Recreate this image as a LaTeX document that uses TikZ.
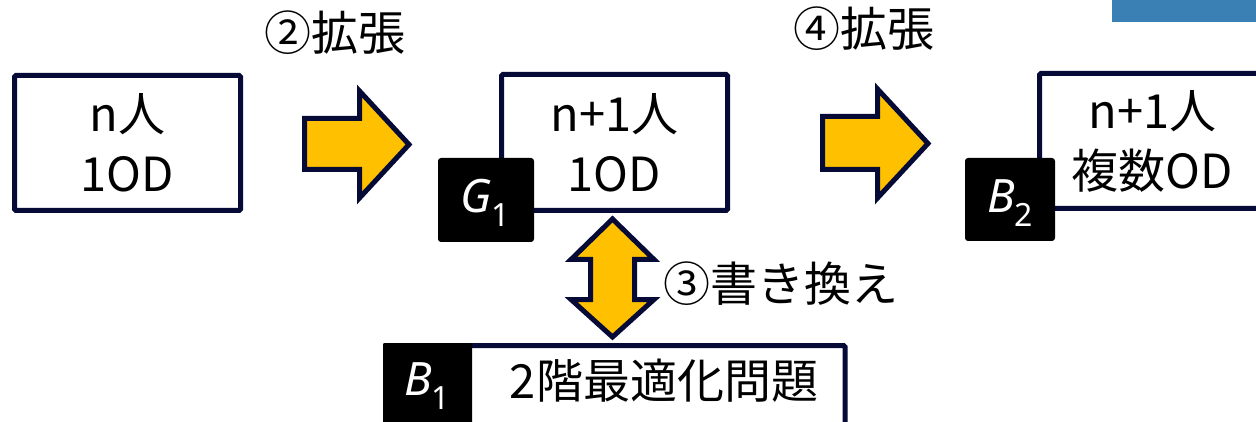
\documentclass[tikz,border=0pt]{standalone}
\usepackage{fontspec}
\setmainfont{Noto Sans CJK JP}
\newfontfamily\latinit{Noto Sans}
\newcommand{\tagtext}[2]{\latinit\itshape #1\raisebox{-0.55ex}{\fontsize{32}{32}\selectfont\upshape #2}}
\begin{document}
\begin{tikzpicture}[x=1pt,y=-1pt,
  txt/.style={font=\fontsize{47}{60}\selectfont, align=center, inner sep=0pt},
  mainbox/.style={draw=navy, line width=5pt, fill=white, rounded corners=1.5pt, inner sep=0pt},
  tagbox/.style={fill=black, rounded corners=3pt, inner sep=0pt, text=white, font=\fontsize{46}{46}\selectfont},
  blockarrow/.style={draw=navy, line width=5pt, fill=arrowyellow, line join=miter}]
\definecolor{navy}{RGB}{5,10,55}
\definecolor{arrowyellow}{RGB}{255,192,0}
\definecolor{barblue}{RGB}{58,128,181}
\useasboundingbox (0,0) rectangle (1256,422);
\clip (0,0) rectangle (1256,422);

% top-right bar
\fill[barblue] (1112,0) rectangle (1260,22);

% boxes
\node[mainbox, minimum width=226pt, minimum height=135pt] (b1) at (127.5,143) {};
\node[txt] (t1) at (b1.center) {n人\\1OD};

\node[mainbox, minimum width=226pt, minimum height=136pt] (b2) at (614.5,142.5) {};
\node[txt] (t2) at (b2.center) {n+1人\\1OD};
\node[tagbox, minimum width=96pt, minimum height=84pt] (g1) at (486,200) {};
\node[text=white, font=\fontsize{46}{46}\selectfont, inner sep=0pt] (g1l) at (485,203) {\tagtext{G}{1}};

\node[mainbox, minimum width=226pt, minimum height=135pt] (b3) at (1152.5,141) {};
\node[txt] (t3) at (b3.center) {n+1人\\複数OD};
\node[tagbox, minimum width=90pt, minimum height=83pt] (b2t) at (1010,199.5) {};
\node[text=white, font=\fontsize{46}{46}\selectfont, inner sep=0pt] (b2l) at (1010,203) {\tagtext{B}{2}};

\node[mainbox, minimum width=390pt, minimum height=90pt] (b4) at (650,390.5) {};
\node[txt, anchor=center] (t4) at (664,381) {2階最適化問題};
\node[tagbox, rounded corners=1pt, minimum width=89pt, minimum height=90pt] (b1t) at (427.5,388) {};
\node[text=white, font=\fontsize{46}{46}\selectfont, inner sep=0pt] (b1l) at (427,386) {\tagtext{B}{1}};

% block arrows
\draw[blockarrow] (304.5,118.5) -- (359.5,118.5) -- (359.5,91) -- (409,144.5) -- (359.5,198) -- (359.5,169.5) -- (304.5,169.5) -- cycle;
\draw[blockarrow] (822.5,116.5) -- (877.5,116.5) -- (877.5,89) -- (928,143.5) -- (877.5,198) -- (877.5,169.5) -- (822.5,169.5) -- cycle;
\draw[blockarrow] (612.5,219) -- (654,259.5) -- (634.5,259.5) -- (634.5,299.5) -- (654,299.5) -- (612.5,337) -- (571,299.5) -- (590.5,299.5) -- (590.5,259.5) -- (571,259.5) -- cycle;

% labels
\node[txt] (l2) at (335,33) {②拡張};
\node[txt] (l4) at (864,29) {④拡張};
\node[txt, anchor=west] (l3) at (663,284) {③書き換え};
\end{tikzpicture}
\end{document}
